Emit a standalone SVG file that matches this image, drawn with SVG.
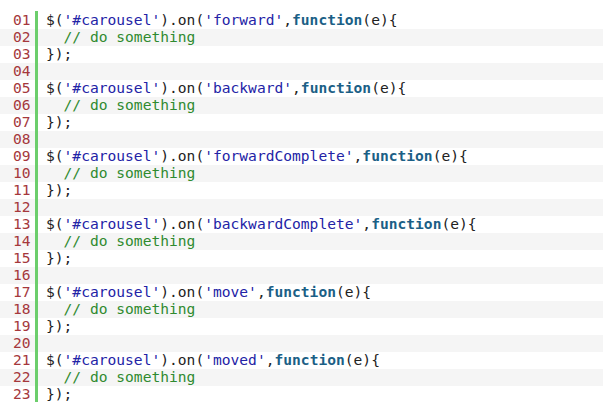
<svg xmlns="http://www.w3.org/2000/svg" width="603" height="411" viewBox="0 0 603 411">
<style>
text{font-family:"DejaVu Sans Mono","Liberation Mono",monospace;font-size:14.6px;white-space:pre;fill:#222}
.n{fill:#a5383c}
.s{fill:#2323a6}
.k{fill:#1b5f86;font-weight:bold}
.c{fill:#2f8a2f}
.alt{fill:#f5f5f5}
</style>
<rect width="603" height="411" fill="#ffffff"/>
<g id="rows">
<rect class="alt" x="0" y="29" width="603" height="17"/>
<rect class="alt" x="0" y="63" width="603" height="17"/>
<rect class="alt" x="0" y="97" width="603" height="17"/>
<rect class="alt" x="0" y="131" width="603" height="17"/>
<rect class="alt" x="0" y="165" width="603" height="17"/>
<rect class="alt" x="0" y="199" width="603" height="17"/>
<rect class="alt" x="0" y="233" width="603" height="17"/>
<rect class="alt" x="0" y="267" width="603" height="17"/>
<rect class="alt" x="0" y="301" width="603" height="17"/>
<rect class="alt" x="0" y="335" width="603" height="17"/>
<rect class="alt" x="0" y="369" width="603" height="17"/>
</g>
<rect id="gutter-bar" x="35" y="11" width="3" height="391" fill="#6cce6c"/>
<g id="numbers">
<text class="n" x="13" y="24.5">01</text>
<text class="n" x="13" y="41.5">02</text>
<text class="n" x="13" y="58.5">03</text>
<text class="n" x="13" y="75.5">04</text>
<text class="n" x="13" y="92.5">05</text>
<text class="n" x="13" y="109.5">06</text>
<text class="n" x="13" y="126.5">07</text>
<text class="n" x="13" y="143.5">08</text>
<text class="n" x="13" y="160.5">09</text>
<text class="n" x="13" y="177.5">10</text>
<text class="n" x="13" y="194.5">11</text>
<text class="n" x="13" y="211.5">12</text>
<text class="n" x="13" y="228.5">13</text>
<text class="n" x="13" y="245.5">14</text>
<text class="n" x="13" y="262.5">15</text>
<text class="n" x="13" y="279.5">16</text>
<text class="n" x="13" y="296.5">17</text>
<text class="n" x="13" y="313.5">18</text>
<text class="n" x="13" y="330.5">19</text>
<text class="n" x="13" y="347.5">20</text>
<text class="n" x="13" y="364.5">21</text>
<text class="n" x="13" y="381.5">22</text>
<text class="n" x="13" y="398.5">23</text>
</g>
<g id="code">
<text x="46" y="24.5">$(<tspan class="s">'#carousel'</tspan>).on(<tspan class="s">'forward'</tspan>,<tspan class="k">function</tspan>(e){</text>
<text class="c" x="46" y="41.5">  // do something</text>
<text x="46" y="58.5">});</text>
<text x="46" y="92.5">$(<tspan class="s">'#carousel'</tspan>).on(<tspan class="s">'backward'</tspan>,<tspan class="k">function</tspan>(e){</text>
<text class="c" x="46" y="109.5">  // do something</text>
<text x="46" y="126.5">});</text>
<text x="46" y="160.5">$(<tspan class="s">'#carousel'</tspan>).on(<tspan class="s">'forwardComplete'</tspan>,<tspan class="k">function</tspan>(e){</text>
<text class="c" x="46" y="177.5">  // do something</text>
<text x="46" y="194.5">});</text>
<text x="46" y="228.5">$(<tspan class="s">'#carousel'</tspan>).on(<tspan class="s">'backwardComplete'</tspan>,<tspan class="k">function</tspan>(e){</text>
<text class="c" x="46" y="245.5">  // do something</text>
<text x="46" y="262.5">});</text>
<text x="46" y="296.5">$(<tspan class="s">'#carousel'</tspan>).on(<tspan class="s">'move'</tspan>,<tspan class="k">function</tspan>(e){</text>
<text class="c" x="46" y="313.5">  // do something</text>
<text x="46" y="330.5">});</text>
<text x="46" y="364.5">$(<tspan class="s">'#carousel'</tspan>).on(<tspan class="s">'moved'</tspan>,<tspan class="k">function</tspan>(e){</text>
<text class="c" x="46" y="381.5">  // do something</text>
<text x="46" y="398.5">});</text>
</g>
</svg>
